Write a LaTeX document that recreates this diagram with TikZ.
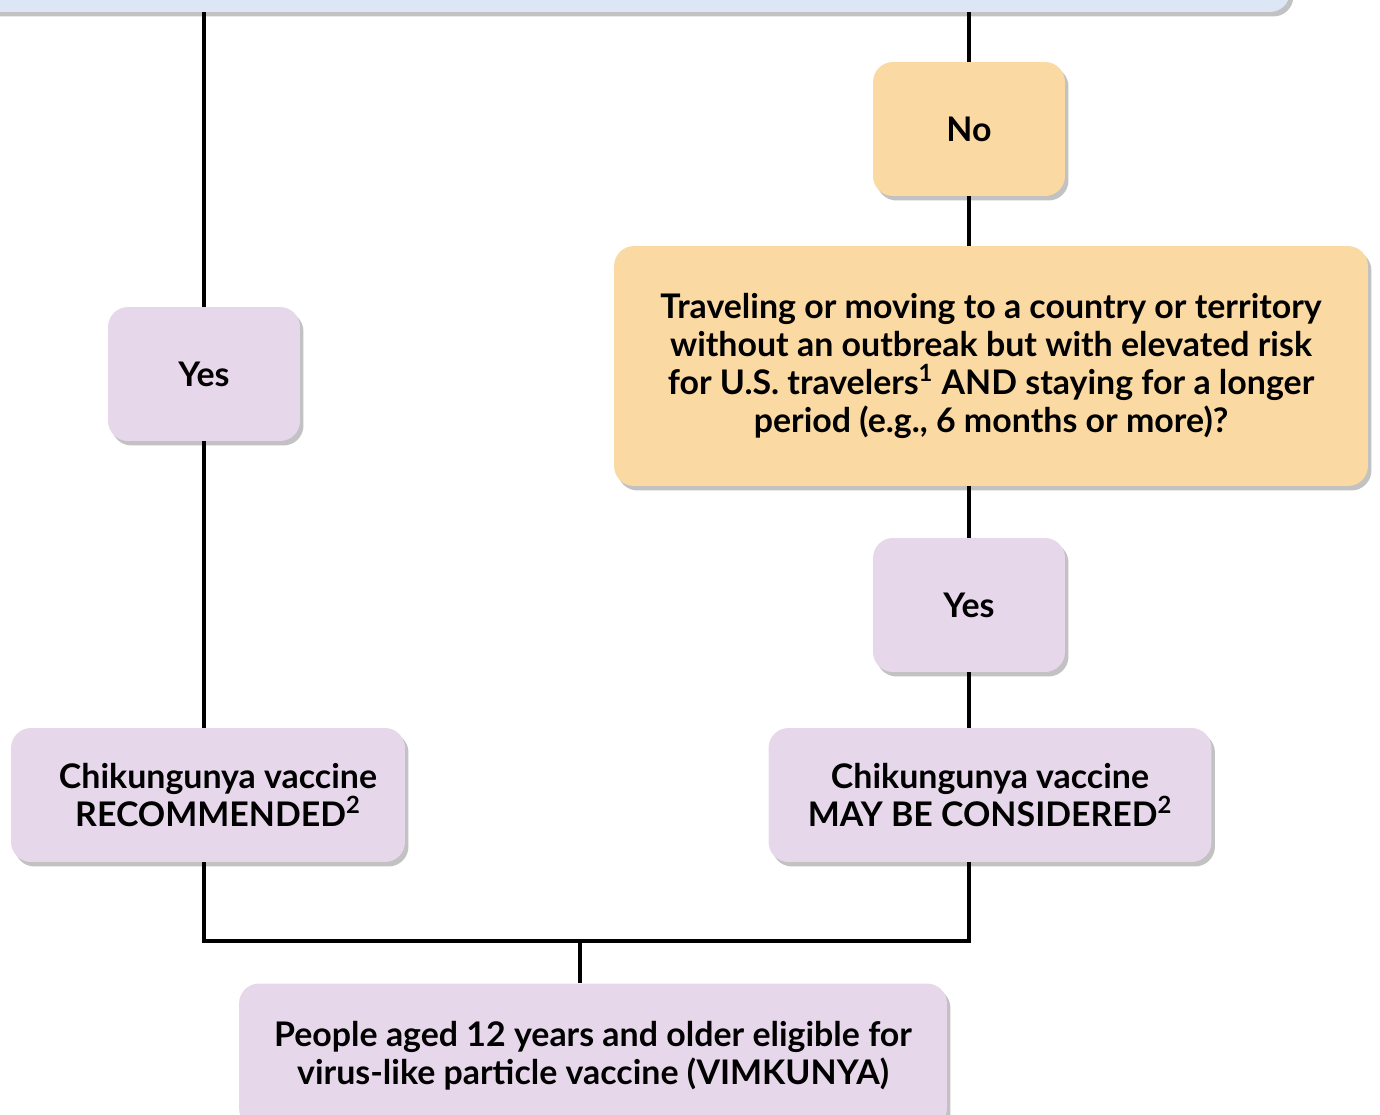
\documentclass[tikz,border=0pt]{standalone}
\usepackage{fontspec}
\setmainfont{Lato}
\usetikzlibrary{shadows}

\definecolor{topblue}{HTML}{DCE6F5}
\definecolor{qorange}{HTML}{FAD9A3}
\definecolor{lilac}{HTML}{E7D7EA}

\begin{document}
\begin{tikzpicture}[x=0.02cm,y=-0.02cm,
    box/.style={rounded corners=0.4cm, align=center, inner sep=0pt,
      font=\bfseries\fontsize{19.3}{21.8}\selectfont,
      drop shadow={shadow xshift=0.07cm, shadow yshift=-0.09cm, opacity=0.4, fill=black!60}},
    link/.style={line width=2.2pt}]
    \useasboundingbox (0,0) rectangle (1380,1115);
    \clip (0,0) rectangle (1380,1115);

    % boxes
    \node[box, fill=topblue, minimum width=26.8cm, minimum height=2.24cm] (top) at (620,-44) {};
    \node[box, fill=qorange, minimum width=3.84cm, minimum height=2.68cm] (no) at (969,129) {No};
    \node[box, fill=qorange, minimum width=15.08cm, minimum height=4.8cm] (quest) at (991,366)
      {\raisebox{-0.08cm}{\parbox{15cm}{\centering Traveling or moving to a country or territory\\
       without an outbreak but with elevated risk\\
       for U.S. travelers\textsuperscript{1} AND staying for a longer\\
       period (e.g., 6 months or more)?}}};
    \node[box, fill=lilac, minimum width=3.84cm, minimum height=2.68cm] (yesr) at (969,605) {Yes};
    \node[box, fill=lilac, minimum width=3.84cm, minimum height=2.68cm] (yesl) at (204,374) {Yes};
    \node[box, fill=lilac, minimum width=7.88cm, minimum height=2.68cm] (rec) at (208,795)
      {\hspace{0.4cm}Chikungunya vaccine\\\hspace{0.4cm}RECOMMENDED\textsuperscript{2}};
    \node[box, fill=lilac, minimum width=8.86cm, minimum height=2.68cm] (may) at (990,795)
      {Chikungunya vaccine\\MAY BE CONSIDERED\textsuperscript{2}};
    \node[box, fill=lilac, minimum width=14.16cm, minimum height=2.9cm] (elig) at (593,1056)
      {\raisebox{0.23cm}{\parbox{14cm}{\centering People aged 12 years and older eligible for\\
       virus-like particle vaccine (VIMKUNYA)}}};

    % connectors
    \coordinate (join) at (580,941);
    \draw[link] (top.south -| yesl.north) -- (yesl.north);
    \draw[link] (yesl.south) -- (yesl.south |- rec.north);
    \draw[link] (top.south -| no.north) -- (no.north);
    \draw[link] (no.south) -- (no.south |- quest.north);
    \draw[link] (quest.south -| yesr.north) -- (yesr.north);
    \draw[link] (yesr.south) -- (yesr.south |- may.north);
    \draw[link] (yesl.south |- rec.south) |- (join) -| (yesr.south |- may.south);
    \draw[link] (join) -- (join |- elig.north);
\end{tikzpicture}
\end{document}
